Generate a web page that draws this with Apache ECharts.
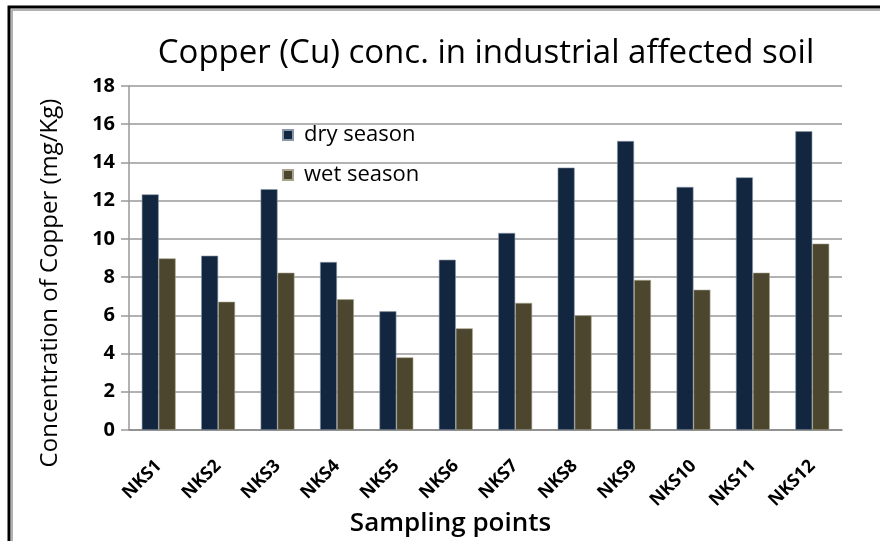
<!DOCTYPE html>
<html>
<head>
<meta charset="utf-8">
<script src="https://cdn.jsdelivr.net/npm/echarts@6/dist/echarts.min.js"></script>
<style>
  html, body { margin: 0; padding: 0; background: #fff; }
  #main { width: 880px; height: 541px; }
</style>
</head>
<body>
<div id="main"></div>
<script>
// sampling points and copper values (mg/Kg)
var categories = ['NKS1', 'NKS2', 'NKS3', 'NKS4', 'NKS5', 'NKS6', 'NKS7', 'NKS8', 'NKS9', 'NKS10', 'NKS11', 'NKS12'];
var drySeason = [12.33, 9.12, 12.6, 8.79, 6.21, 8.91, 10.31, 13.73, 15.12, 12.72, 13.22, 15.63];
var wetSeason = [8.98, 6.71, 8.23, 6.84, 3.8, 5.32, 6.65, 6.0, 7.85, 7.34, 8.23, 9.75];
var yTicks = [0, 2, 4, 6, 8, 10, 12, 14, 16, 18];

var myChart = echarts.init(document.getElementById('main'));

var font = 'Open Sans';

option = {
    backgroundColor: '#fff',
    animation: false,
    title: {
        text: 'Copper (Cu) conc. in industrial affected soil',
        left: 481,
        textAlign: 'center',
        top: 32,
        textStyle: { fontFamily: font, fontSize: 33, fontWeight: 'normal', color: '#000' }
    },
    legend: {
        orient: 'vertical',
        left: 277,
        top: 119,
        itemWidth: 10,
        itemHeight: 10,
        itemGap: 18,
        icon: 'rect',
        textStyle: { fontFamily: font, fontSize: 22, color: '#000', padding: [0, 0, 0, 6] },
        data: ['dry season', 'wet season']
    },
    graphic: [
        {
            type: 'text',
            left: 78,
            top: -19,
            style: { text: 'Figure 3: Graphical representation of Copper', font: 'bold 18px "Liberation Serif"', fill: '#1a7a1a' }
        },
        {
            type: 'rect',
            shape: { x: 9, y: 7, width: 900, height: 600 },
            style: { fill: 'none', stroke: '#000', lineWidth: 3 }
        },
        {
            type: 'rect',
            shape: { x: 12, y: 10, width: 900, height: 600 },
            style: { fill: 'none', stroke: '#999', lineWidth: 1.5 }
        }
    ],
    grid: { left: 129, right: 38, top: 86, bottom: 111, outerBoundsMode: 'none' },
    xAxis: {
        type: 'category',
        data: categories,
        name: 'Sampling points',
        nameLocation: 'middle',
        nameGap: 81,
        nameMoveOverlap: false,
        nameTextStyle: { fontFamily: font, fontSize: 26, fontWeight: 600, color: '#000', padding: [0, 70, 0, 0] },
        axisLine: { lineStyle: { color: '#888', width: 1.5 } },
        axisTick: { show: false },
        axisLabel: {
            rotate: 45,
            interval: 0,
            margin: 33,
            fontFamily: font,
            fontSize: 18,
            fontWeight: 'bold',
            color: '#000'
        }
    },
    yAxis: {
        type: 'value',
        min: yTicks[0],
        max: yTicks[yTicks.length - 1],
        interval: 2,
        name: 'Concentration of Copper (mg/Kg)',
        nameLocation: 'middle',
        nameGap: 67,
        nameMoveOverlap: false,
        nameTextStyle: { fontFamily: font, fontSize: 24, color: '#000', padding: [0, 50, 0, 0] },
        axisLine: { show: true, lineStyle: { color: '#999', width: 1.5 } },
        axisTick: { show: true, length: 8, lineStyle: { color: '#999', width: 1.5 } },
        axisLabel: { fontFamily: font, fontSize: 20, fontWeight: 'bold', color: '#000', margin: 14 },
        splitLine: { lineStyle: { color: '#999', width: 1.5 } }
    },
    series: [
        {
            name: 'dry season',
            type: 'bar',
            data: drySeason,
            barGap: '0%',
            barCategoryGap: '43%',
            itemStyle: { color: '#13263f', borderColor: '#8a97a8', borderWidth: 0.6 }
        },
        {
            name: 'wet season',
            type: 'bar',
            data: wetSeason,
            itemStyle: { color: '#4b462d', borderColor: '#a8a48f', borderWidth: 0.6 }
        }
    ]
};

myChart.setOption(option, true);
</script>
</body>
</html>
